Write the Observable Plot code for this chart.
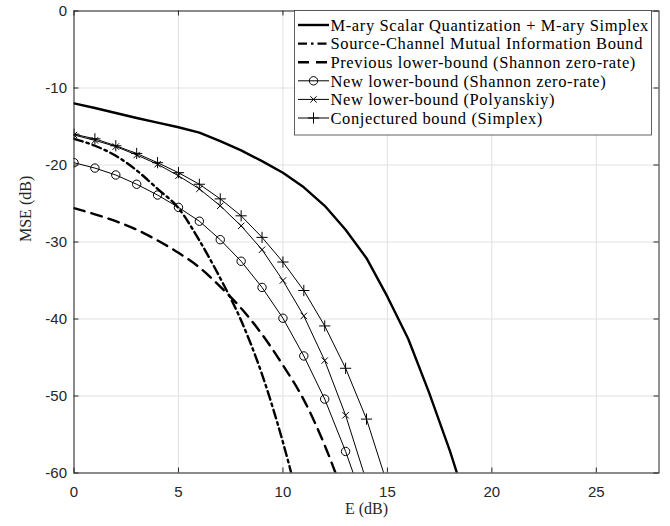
<!DOCTYPE html>
<html><head><meta charset="utf-8">
<script src="https://cdn.jsdelivr.net/npm/d3@7"></script>
<script src="https://cdn.jsdelivr.net/npm/@observablehq/plot@0.6"></script>
<style>body{margin:0;background:#fff}#chart{width:670px;height:526px}</style>
</head><body><div id="chart"></div>
<script>
// ---- data ----
const E = [0,1,2,3,4,5,6,7,8,9,10,11,12,13,14,15,16,17,18,19];
const maryScalarSimplex = [-12.0,-12.6,-13.25,-13.9,-14.5,-15.1,-15.8,-16.9,-18.1,-19.5,-21.0,-22.9,-25.3,-28.4,-32.1,-37.1,-42.6,-49.6,-57.2,-65.7];
const mutualInfoBound   = [-16.6,-17.5,-18.8,-20.7,-23.1,-25.6,-29.8,-34.7,-40.2,-47.2,-56.0,-66.5];
const prevLowerShannon  = [-25.6,-26.4,-27.3,-28.4,-29.8,-31.4,-33.3,-35.8,-38.6,-42.0,-46.0,-50.5,-56.4,-63.6];
const newLowerShannon   = [-19.7,-20.4,-21.3,-22.5,-23.9,-25.5,-27.3,-29.7,-32.5,-35.9,-39.9,-44.8,-50.4,-57.2,-64.9];
const newLowerPolyanskiy= [-16.1,-16.8,-17.6,-18.7,-19.9,-21.4,-23.1,-25.3,-27.9,-31.0,-35.0,-39.6,-45.4,-52.5,-61.1];
const conjSimplex       = [-16.0,-16.6,-17.5,-18.5,-19.7,-21.0,-22.5,-24.4,-26.6,-29.4,-32.6,-36.3,-40.9,-46.4,-53.0,-61.5];
const seriesNames = [
  "M-ary Scalar Quantization + M-ary Simplex",
  "Source-Channel Mutual Information Bound",
  "Previous lower-bound (Shannon zero-rate)",
  "New lower-bound (Shannon zero-rate)",
  "New lower-bound (Polyanskiy)",
  "Conjectured bound (Simplex)"
];
const xTicks = [0,5,10,15,20,25];
const yTicks = [-60,-50,-40,-30,-20,-10,0];
const xLabel = "E (dB)";
const yLabel = "MSE (dB)";

// ---- tables ----
const tbl = arr => arr.map((v,i) => ({E: E[i], mse: v}));
const sMary = tbl(maryScalarSimplex), sMI = tbl(mutualInfoBound), sPrev = tbl(prevLowerShannon),
      sNewS = tbl(newLowerShannon), sPoly = tbl(newLowerPolyanskiy), sConj = tbl(conjSimplex);

const W = 670, H = 526, mL = 73.5, mR = 11.5, mT = 10.5, mB = 53.5;
const pw = W - mL - mR, ph = H - mT - mB;
const ink = "#262626", grid = "#e1e1e1";
const serif = "'Liberation Serif', serif", sans = "'Liberation Sans', Arial, sans-serif";
const styles = [
  {sw: 2.4, dash: null, symbol: null},
  {sw: 2.4, dash: "9,4,2.5,4", symbol: null},
  {sw: 2.4, dash: "11,7", symbol: null},
  {sw: 1, dash: null, symbol: "circle", r: 4.2},
  {sw: 1, dash: null, symbol: "times", r: 3.0},
  {sw: 1, dash: null, symbol: "plus", r: 3.7}
];

const plot = Plot.plot({
  width: W, height: H,
  marginLeft: mL, marginRight: mR, marginTop: mT, marginBottom: mB,
  x: {domain: [0, 28]},
  y: {domain: [-60, 0]},
  style: {fontFamily: sans, fontSize: "15px", color: ink, background: "#fff"},
  marks: [
    Plot.gridX(xTicks, {stroke: grid, strokeOpacity: 1}),
    Plot.gridY(yTicks, {stroke: grid, strokeOpacity: 1}),
    Plot.line(sMary, {x: "E", y: "mse", stroke: "#000", strokeWidth: styles[0].sw, clip: true}),
    Plot.line(sMI, {x: "E", y: "mse", stroke: "#000", strokeWidth: styles[1].sw, strokeDasharray: styles[1].dash, curve: "monotone-x", clip: true}),
    Plot.line(sPrev, {x: "E", y: "mse", stroke: "#000", strokeWidth: styles[2].sw, strokeDasharray: styles[2].dash, curve: "monotone-x", clip: true}),
    Plot.line(sNewS, {x: "E", y: "mse", stroke: "#000", strokeWidth: 1, clip: true}),
    Plot.line(sPoly, {x: "E", y: "mse", stroke: "#000", strokeWidth: 1, clip: true}),
    Plot.line(sConj, {x: "E", y: "mse", stroke: "#000", strokeWidth: 1, clip: true}),
    Plot.dot(sNewS, {x: "E", y: "mse", symbol: "circle", r: styles[3].r, stroke: "#000", fill: "none", strokeWidth: 1, clip: true}),
    Plot.dot(sPoly, {x: "E", y: "mse", symbol: "times", r: styles[4].r, stroke: "#000", strokeWidth: 1, clip: true}),
    Plot.dot(sConj, {x: "E", y: "mse", symbol: "plus", r: styles[5].r, stroke: "#000", strokeWidth: 1, clip: true}),
    Plot.frame({stroke: ink, strokeWidth: 1}),
    Plot.ruleX(xTicks, {stroke: ink, insetTop: ph - 5}),
    Plot.ruleX(xTicks, {stroke: ink, insetBottom: ph - 5}),
    Plot.ruleY(yTicks, {stroke: ink, insetRight: pw - 5}),
    Plot.ruleY(yTicks, {stroke: ink, insetLeft: pw - 5}),
    Plot.axisX(xTicks, {tickSize: 0, tickPadding: 13, label: null, fontSize: 15, fill: ink}),
    Plot.axisY(yTicks, {tickSize: 0, tickPadding: 7, label: null, fontSize: 15, fill: ink, tickFormat: d => d === 0 ? "0" : String(d)}),
    Plot.text([xLabel], {text: d => d, frameAnchor: "bottom", dy: 41, fontFamily: serif, fontSize: 16, fill: ink}),
    Plot.text([yLabel], {text: d => d, frameAnchor: "left", dx: -48, rotate: -90, fontFamily: serif, fontSize: 16, fill: ink})
  ]
});
document.getElementById("chart").append(plot);

// ---- legend (drawn over the plot, top-right) ----
const svg = d3.select(plot);
const lg = svg.append("g").attr("text-anchor", "start");
const lx = 294.5, ly = 10.5, lw = 357, lh = 124.5;
lg.append("rect").attr("x", lx).attr("y", ly).attr("width", lw).attr("height", lh)
  .attr("fill", "#fff").attr("stroke", "#3a3a3a").attr("stroke-width", 0.8);
seriesNames.forEach((name, i) => {
  const yy = 25 + i * 18.6, st = styles[i];
  lg.append("line").attr("x1", 298).attr("x2", 329).attr("y1", yy).attr("y2", yy)
    .attr("stroke", "#000").attr("stroke-width", st.sw)
    .attr("stroke-dasharray", st.dash);
  if (st.symbol) {
    const sym = {circle: d3.symbolCircle, times: d3.symbolTimes, plus: d3.symbolPlus}[st.symbol];
    lg.append("path").attr("transform", `translate(313.5,${yy})`)
      .attr("d", d3.symbol(sym, st.r * st.r * Math.PI)())
      .attr("fill", "none").attr("stroke", "#000").attr("stroke-width", 1);
  }
  lg.append("text").attr("x", 330.5).attr("y", yy).attr("dy", "0.35em")
    .attr("text-anchor", "start")
    .attr("font-family", serif).attr("font-size", 16.5).attr("fill", "#000")
    .attr("letter-spacing", "0.6px")
    .text(name);
});
</script>
</body></html>
